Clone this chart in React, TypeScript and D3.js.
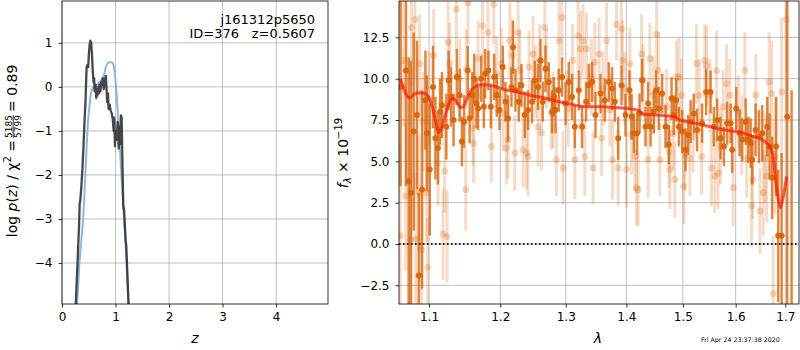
import React, { useEffect, useRef } from 'react';
import * as d3 from 'd3';

// ---- p(z) panel ----
const zGrid = [0.255, 0.29, 0.32, 0.33, 0.34, 0.36, 0.38, 0.40, 0.42, 0.44, 0.45, 0.46, 0.475, 0.49, 0.50, 0.515, 0.53, 0.545, 0.56, 0.575, 0.59, 0.60, 0.61, 0.625, 0.64, 0.65, 0.66, 0.68, 0.69, 0.70, 0.72, 0.73, 0.75, 0.76, 0.78, 0.80, 0.82, 0.83, 0.845, 0.86, 0.87, 0.89, 0.91, 0.93, 0.95, 0.965, 0.975, 0.99, 1.00, 1.02, 1.04, 1.06, 1.075, 1.09, 1.10, 1.115, 1.13, 1.145, 1.16, 1.19, 1.20, 1.22, 1.245];
const logPz = [-5.0, -4.0, -3.1, -2.65, -2.6, -2.3, -1.9, -1.4, -0.8, -0.3, 0.1, 0.45, 0.5, 0.45, 0.7, 0.95, 1.05, 1.0, 0.75, 0.35, 0.1, 0.2, -0.1, 0.05, -0.25, -0.05, -0.2, 0.0, -0.15, 0.05, -0.1, 0.1, 0.05, 0.2, -0.05, 0.15, 0.25, 0.0, -0.35, -0.15, -0.5, -0.4, -0.55, -0.6, -0.75, -1.0, -0.7, -1.35, -1.0, -1.2, -0.8, -1.4, -0.9, -1.3, -0.65, -0.7, -1.8, -2.7, -2.8, -3.5, -3.6, -4.2, -5.0];
const zPrior = [0.28, 0.32, 0.36, 0.40, 0.44, 0.48, 0.52, 0.56, 0.62, 0.68, 0.74, 0.78, 0.82, 0.86, 0.90, 0.94, 0.97, 1.00, 1.03, 1.06, 1.09, 1.12, 1.16, 1.20, 1.245];
const logPrior = [-5.0, -4.1, -3.5, -2.9, -1.9, -0.9, -0.35, -0.06, 0.02, 0.08, 0.16, 0.25, 0.45, 0.55, 0.56, 0.55, 0.45, 0.15, -0.35, -0.95, -1.55, -2.2, -3.0, -3.8, -5.0];
const zTicks = [0, 1, 2, 3, 4];
const pzTicks = [-4, -3, -2, -1, 0, 1];

// ---- spectrum panel ----
const waveDark = [1.0625, 1.0695, 1.0730, 1.0760, 1.0796, 1.0840, 1.0863, 1.0907, 1.0952, 1.0973, 1.1010, 1.1054, 1.1086, 1.1121, 1.1150, 1.1176, 1.1235, 1.1267, 1.1300, 1.1335, 1.1380, 1.1420, 1.1451, 1.1483, 1.1533, 1.1560, 1.1598, 1.1625, 1.1657, 1.1680, 1.1725, 1.1762, 1.1780, 1.1828, 1.1864, 1.1911, 1.1950, 1.1990, 1.2037, 1.2077, 1.2115, 1.2166, 1.2190, 1.2225, 1.2275, 1.2315, 1.2365, 1.2415, 1.2476, 1.2517, 1.2568, 1.2605, 1.2640, 1.2682, 1.2733, 1.2785, 1.2811, 1.2838, 1.2890, 1.2942, 1.2997, 1.3049, 1.3101, 1.3145, 1.3209, 1.3262, 1.3327, 1.3371, 1.3426, 1.3481, 1.3564, 1.3636, 1.3703, 1.3758, 1.3803, 1.3860, 1.3917, 1.3985, 1.4054, 1.4088, 1.4128, 1.4185, 1.4227, 1.4272, 1.4331, 1.4377, 1.4420, 1.4478, 1.4518, 1.4566, 1.4625, 1.4686, 1.4745, 1.4794, 1.4836, 1.4878, 1.4927, 1.4987, 1.5049, 1.5097, 1.5142, 1.5203, 1.5264, 1.5357, 1.5433, 1.5516, 1.5579, 1.5643, 1.5707, 1.5772, 1.5835, 1.5902, 1.5932, 1.6011, 1.6078, 1.6128, 1.6196, 1.6247, 1.6295, 1.6327, 1.6394, 1.6462, 1.6528, 1.6629, 1.6677, 1.6730, 1.6812, 1.6854, 1.6924, 1.7040, 1.7131];
const fluxDark = [9.5, 10.5, 3.8, 3.1, 6.8, 7.8, -1.9, 3.3, 8.7, 6.7, 4.5, 9.5, 6.4, 5.8, 8.0, 8.4, 7.1, 9.9, 8.9, 7.5, 10.1, 9.0, 6.2, 7.4, 10.5, 7.6, 9.0, 10.0, 8.5, 8.2, 10.0, 8.3, 10.3, 10.5, 8.3, 10.1, 9.0, 8.1, 10.7, 8.6, 7.6, 9.5, 11.9, 9.3, 8.6, 9.6, 7.8, 8.1, 8.6, 9.9, 9.5, 11.1, 8.6, 10.6, 9.8, 8.0, 8.9, 8.1, 9.3, 10.1, 8.5, 9.8, 8.9, 7.1, 9.3, 7.1, 8.6, 9.6, 9.8, 7.8, 9.1, 8.7, 9.8, 9.4, 8.6, 6.4, 9.6, 7.8, 9.3, 7.7, 6.7, 6.7, 7.9, 9.9, 7.1, 8.5, 7.1, 8.0, 9.3, 8.2, 9.1, 7.1, 6.0, 8.8, 7.8, 8.7, 7.1, 6.8, 5.7, 6.6, 7.4, 7.9, 6.9, 7.3, 9.2, 9.2, 7.1, 7.5, 6.4, 5.9, 7.3, 7.3, 5.7, 8.2, 6.7, 6.3, 7.4, 6.3, 6.1, 5.1, 6.9, 6.5, 6.7, 7.1, 5.9, 4.0, 5.9, 0.5, 0.5, 7.7, -4.5];
const errDark = [6.0, 7.0, 7.5, 8.0, 6.0, 4.5, 5.0, 6.0, 3.0, 3.5, 4.0, 2.5, 2.5, 2.2, 2.0, 2.0, 2.0, 1.8, 1.8, 1.6, 1.7, 1.6, 1.5, 1.6, 1.5, 1.5, 1.4, 1.5, 1.5, 1.3, 1.4, 1.3, 1.5, 1.2, 1.3, 1.4, 1.3, 1.2, 1.3, 1.2, 1.4, 1.2, 1.6, 1.3, 1.2, 1.3, 1.4, 1.2, 1.3, 1.2, 1.4, 1.3, 1.2, 1.4, 1.2, 1.3, 1.2, 1.4, 1.3, 1.2, 1.3, 1.2, 1.4, 1.3, 1.2, 1.3, 1.2, 1.3, 1.2, 1.4, 1.2, 1.3, 1.2, 1.3, 1.2, 1.3, 1.2, 1.3, 1.2, 1.4, 1.2, 1.3, 1.2, 1.3, 1.2, 1.3, 1.2, 1.3, 1.2, 1.3, 1.2, 1.3, 1.2, 1.3, 1.2, 1.3, 1.2, 1.3, 1.3, 1.2, 1.3, 1.2, 1.3, 1.2, 1.4, 1.3, 1.2, 1.3, 1.3, 1.2, 1.3, 1.2, 1.4, 1.3, 1.4, 1.3, 1.4, 1.4, 1.5, 1.5, 1.6, 1.6, 1.7, 1.8, 2.0, 2.5, 3.0, 4.0, 5.0, 12.0, 13.8];

const waveLight = [1.0620, 1.0664, 1.0691, 1.0757, 1.0766, 1.0813, 1.0822, 1.0866, 1.0875, 1.0899, 1.0920, 1.0965, 1.0983, 1.1000, 1.1063, 1.1122, 1.1190, 1.1213, 1.1245, 1.1260, 1.1282, 1.1375, 1.1421, 1.1505, 1.1514, 1.1537, 1.1608, 1.1617, 1.1679, 1.1742, 1.1822, 1.1872, 1.1905, 1.1945, 1.2018, 1.2042, 1.2091, 1.2115, 1.2141, 1.2181, 1.2215, 1.2265, 1.2290, 1.2340, 1.2392, 1.2415, 1.2430, 1.2491, 1.2532, 1.2568, 1.2594, 1.2620, 1.2671, 1.2697, 1.2775, 1.2801, 1.2853, 1.2895, 1.2942, 1.2958, 1.3037, 1.3108, 1.3145, 1.3198, 1.3237, 1.3279, 1.3306, 1.3334, 1.3415, 1.3442, 1.3470, 1.3541, 1.3582, 1.3608, 1.3665, 1.3720, 1.3765, 1.3833, 1.3860, 1.3917, 1.3934, 1.3973, 1.4002, 1.4060, 1.4088, 1.4146, 1.4175, 1.4203, 1.4262, 1.4290, 1.4377, 1.4407, 1.4465, 1.4526, 1.4555, 1.4584, 1.4704, 1.4751, 1.4764, 1.4823, 1.4854, 1.4884, 1.4931, 1.4976, 1.5018, 1.5036, 1.5128, 1.5189, 1.5253, 1.5302, 1.5347, 1.5408, 1.5440, 1.5503, 1.5534, 1.5598, 1.5629, 1.5660, 1.5706, 1.5757, 1.5823, 1.5887, 1.5951, 1.6050, 1.6117, 1.6181, 1.6215, 1.6315, 1.6334, 1.6401, 1.6482, 1.6548, 1.6583, 1.6617, 1.6669, 1.6719, 1.6751, 1.6787, 1.6924, 1.7027];
const fluxLight = [0.5, 11.1, 2.9, 0.25, 13.1, 13.6, 0.3, 3.1, 10.9, -0.35, 7.4, 3.1, -1.4, 8.8, 11.4, 4.9, 0.6, 4.4, 0.45, 12.2, 10.9, 14.2, 10.0, 3.3, 10.6, 14.6, 7.05, 6.1, 11.2, 13.2, 12.8, 5.9, 14.5, 10.3, 10.9, 7.9, 5.8, 6.3, 12.3, 11.4, 5.5, 12.8, 10.5, 5.7, 5.5, 5.3, 10.7, 11.5, 9.8, 7.1, 11.1, 6.75, 13.1, 10.6, 7.9, 8.1, 5.1, 12.3, 13.7, 4.6, 8.2, 11.1, 5.1, 12.6, 11.8, 12.3, 5.3, 11.8, 10.1, 4.6, 11.0, 11.5, 6.4, 9.4, 12.3, 8.1, 5.1, 13.3, 4.6, 13.0, 11.1, 9.4, 4.5, 10.9, 6.6, 5.3, 3.4, 3.3, 11.5, 9.9, 5.1, 11.2, 9.0, 12.7, 10.5, 5.1, 8.3, 5.6, 4.5, 6.7, 3.9, 10.1, 10.1, 9.0, 3.5, 5.4, 5.2, 6.5, 10.9, 9.0, 5.3, 11.1, 10.8, 9.0, 4.6, 4.1, 10.5, 4.3, 5.9, 8.3, 9.7, 9.0, 3.4, 8.0, 6.6, 10.5, 5.2, 2.3, 3.9, 9.0, 2.0, 3.1, 5.2, 4.1, 9.8, 9.1, -3.0, 5.3, 9.2, 13.6];
const errLight = [5.5, 4.0, 4.5, 4.0, 3.5, 3.5, 4.0, 3.5, 3.0, 3.5, 3.0, 3.0, 3.0, 2.8, 2.8, 2.6, 2.8, 2.5, 2.8, 2.6, 2.5, 2.6, 2.4, 2.5, 2.4, 2.5, 2.3, 2.4, 2.3, 2.4, 2.3, 2.2, 2.4, 2.3, 2.2, 2.3, 2.2, 2.4, 2.3, 2.2, 2.3, 2.2, 2.4, 2.3, 2.2, 2.4, 2.2, 2.3, 2.2, 2.4, 2.2, 2.3, 2.2, 2.4, 2.2, 2.3, 2.2, 2.4, 2.3, 2.2, 2.3, 2.2, 2.4, 2.2, 2.3, 2.2, 2.4, 2.2, 2.3, 2.2, 2.4, 2.2, 2.3, 2.2, 2.3, 2.2, 2.4, 2.2, 2.3, 2.2, 2.4, 2.2, 2.3, 2.2, 2.4, 2.2, 2.3, 2.2, 2.4, 2.2, 2.3, 2.2, 2.4, 2.2, 2.3, 2.2, 2.3, 2.2, 2.4, 2.2, 2.3, 2.2, 2.4, 2.2, 2.3, 2.2, 2.3, 2.2, 2.4, 2.2, 2.3, 2.2, 2.4, 2.2, 2.3, 2.2, 2.4, 2.2, 2.3, 2.2, 2.4, 2.2, 2.3, 2.2, 2.4, 2.3, 2.4, 2.5, 2.4, 2.5, 2.6, 2.6, 2.7, 2.8, 3.0, 3.2, 3.5, 3.5, 4.5, 6.0];

const waveModel = [1.062, 1.066, 1.070, 1.075, 1.080, 1.088, 1.095, 1.100, 1.105, 1.110, 1.113, 1.117, 1.122, 1.128, 1.133, 1.138, 1.143, 1.147, 1.152, 1.158, 1.165, 1.175, 1.185, 1.195, 1.205, 1.22, 1.235, 1.25, 1.27, 1.29, 1.31, 1.33, 1.36, 1.38, 1.40, 1.42, 1.43, 1.45, 1.47, 1.485, 1.495, 1.51, 1.53, 1.55, 1.57, 1.59, 1.61, 1.63, 1.65, 1.662, 1.668, 1.675, 1.679, 1.685, 1.690, 1.696, 1.703];
const fluxModel = [10.0, 9.5, 9.0, 8.85, 9.05, 9.15, 9.1, 8.85, 8.2, 7.2, 6.75, 7.0, 7.8, 8.6, 8.8, 8.6, 8.25, 8.3, 8.8, 9.3, 9.55, 9.65, 9.6, 9.5, 9.35, 9.25, 9.1, 8.95, 8.8, 8.6, 8.45, 8.3, 8.3, 8.25, 8.2, 8.1, 7.85, 7.8, 7.75, 7.7, 7.5, 7.4, 7.25, 7.1, 6.95, 6.85, 6.75, 6.55, 6.35, 6.1, 5.9, 5.3, 4.2, 2.8, 2.2, 2.9, 4.1];
const waveTicks = [1.1, 1.2, 1.3, 1.4, 1.5, 1.6, 1.7];
const fluxTicks = [-2.5, 0, 2.5, 5, 7.5, 10, 12.5];

const FONT = 'DejaVu Sans';
const ORANGE = '#d9650b';

const App = () => {
  const svgRef = useRef(null);

  useEffect(() => {
    if (!svgRef.current) return;
    const svg = d3.select(svgRef.current);
    svg.selectAll('*').remove();

    const drawFrame = (x, y, xTicks, yTicks, xFmt, yFmt, clipId) => {
      const [x0, x1] = x.range();
      const [y1, y0] = y.range();
      svg.append('clipPath').attr('id', clipId)
        .append('rect').attr('x', x0).attr('y', y0).attr('width', x1 - x0).attr('height', y1 - y0);

      // grid
      const grid = svg.append('g').attr('stroke', '#b0b0b0').attr('stroke-width', 0.8);
      xTicks.forEach(t => grid.append('line').attr('x1', x(t)).attr('x2', x(t)).attr('y1', y0).attr('y2', y1));
      yTicks.forEach(t => grid.append('line').attr('x1', x0).attr('x2', x1).attr('y1', y(t)).attr('y2', y(t)));

      const gx = svg.append('g')
        .attr('transform', `translate(0,${y1})`)
        .call(d3.axisBottom(x).tickValues(xTicks).tickSize(3.5).tickPadding(5).tickFormat(xFmt));
      const gy = svg.append('g')
        .attr('transform', `translate(${x0},0)`)
        .call(d3.axisLeft(y).tickValues(yTicks).tickSize(3.5).tickPadding(6).tickFormat(yFmt));
      [gx, gy].forEach(g => {
        g.select('.domain').remove();
        g.attr('font-size', 12).attr('font-family', FONT);
        g.selectAll('line').attr('stroke', '#000').attr('stroke-width', 0.8);
        g.selectAll('text').attr('fill', '#000');
      });
      return () => svg.append('rect')
        .attr('x', x0).attr('y', y0).attr('width', x1 - x0).attr('height', y1 - y0)
        .attr('fill', 'none').attr('stroke', '#000').attr('stroke-width', 0.8);
    };

    // ---------- left: p(z) ----------
    const lx = d3.scaleLinear().domain([0, 4.97]).range([62, 328]);
    const ly = d3.scaleLinear().domain([-4.93, 1.95]).range([304, 1]);
    const leftBorder = drawFrame(lx, ly, zTicks, pzTicks, d3.format('d'), d3.format('d'), 'clipL');

    const lineL = d3.line().x(d => lx(d[0])).y(d => ly(d[1]));
    const lp = svg.append('g').attr('clip-path', 'url(#clipL)');
    lp.append('path')
      .attr('d', lineL.curve(d3.curveMonotoneX)(zPrior.map((z, i) => [z, logPrior[i]])))
      .attr('fill', 'none').attr('stroke', '#7eb0da').attr('stroke-width', 2).attr('opacity', 0.9);
    lp.append('path')
      .attr('d', lineL.curve(d3.curveLinear)(zGrid.map((z, i) => [z, logPz[i]])))
      .attr('fill', 'none').attr('stroke', '#333').attr('stroke-width', 2.3)
      .attr('stroke-linejoin', 'round').attr('opacity', 0.9);
    leftBorder();

    svg.append('text').attr('x', 315).attr('y', 24).attr('text-anchor', 'end')
      .attr('font-family', FONT).attr('font-size', 13).text('j161312p5650');
    svg.append('text').attr('x', 239).attr('y', 38).attr('text-anchor', 'end')
      .attr('font-family', FONT).attr('font-size', 13).text('ID=376');
    svg.append('text').attr('x', 315).attr('y', 38).attr('text-anchor', 'end')
      .attr('font-family', FONT).attr('font-size', 13).text('z=0.5607');

    // y label with fraction
    const yl = svg.append('g').attr('transform', 'translate(17,152) rotate(-90)')
      .attr('font-family', FONT).attr('fill', '#000');
    const t1 = yl.append('text').attr('x', 12).attr('y', 0).attr('text-anchor', 'end').attr('font-size', 14);
    t1.append('tspan').text('log ');
    t1.append('tspan').attr('font-style', 'italic').text('p');
    t1.append('tspan').text('(');
    t1.append('tspan').attr('font-style', 'italic').text('z');
    t1.append('tspan').text(') / χ');
    t1.append('tspan').attr('font-size', 10).attr('dy', -6).text('2');
    t1.append('tspan').attr('dy', 6).text(' =');
    yl.append('text').attr('x', 25.5).attr('y', -5).attr('text-anchor', 'middle').attr('font-size', 9).text('5185');
    yl.append('line').attr('x1', 14).attr('x2', 37).attr('y1', -3.8).attr('y2', -3.8).attr('stroke', '#000').attr('stroke-width', 0.8);
    yl.append('text').attr('x', 25.5).attr('y', 3.6).attr('text-anchor', 'middle').attr('font-size', 9).text('5799');
    yl.append('text').attr('x', 40).attr('y', 0).attr('text-anchor', 'start').attr('font-size', 14).text('= 0.89');

    svg.append('text').attr('x', 195).attr('y', 343).attr('text-anchor', 'middle')
      .attr('font-family', FONT).attr('font-size', 14).attr('font-style', 'italic').text('z');

    // ---------- right: spectrum ----------
    const rx = d3.scaleLog().domain([1.0604, 1.7287]).range([399, 799]);
    const ry = d3.scaleLinear().domain([-3.63, 14.7]).range([304, 1]);
    const rightBorder = drawFrame(rx, ry, waveTicks, fluxTicks, d3.format('.1f'), d3.format('.1f'), 'clipR');

    const rp = svg.append('g').attr('clip-path', 'url(#clipR)');
    const light = waveLight.map((w, i) => ({ w, f: fluxLight[i], e: errLight[i] }));
    const dark = waveDark.map((w, i) => ({ w, f: fluxDark[i], e: errDark[i] }));

    rp.append('g').selectAll('line').data(light).join('line')
      .attr('x1', d => rx(d.w)).attr('x2', d => rx(d.w))
      .attr('y1', d => ry(d.f - d.e)).attr('y2', d => ry(d.f + d.e))
      .attr('stroke', ORANGE).attr('stroke-width', 3).attr('opacity', 0.22);
    rp.append('g').selectAll('circle').data(light).join('circle')
      .attr('cx', d => rx(d.w)).attr('cy', d => ry(d.f)).attr('r', 3.5)
      .attr('fill', ORANGE).attr('opacity', 0.26);

    rp.append('g').selectAll('line').data(dark).join('line')
      .attr('x1', d => rx(d.w)).attr('x2', d => rx(d.w))
      .attr('y1', d => ry(d.f - d.e)).attr('y2', d => ry(d.f + d.e))
      .attr('stroke', ORANGE).attr('stroke-width', 2.5).attr('opacity', 0.78);
    rp.append('g').selectAll('circle').data(dark).join('circle')
      .attr('cx', d => rx(d.w)).attr('cy', d => ry(d.f)).attr('r', 3)
      .attr('fill', ORANGE).attr('opacity', 0.95);

    rp.append('line').attr('x1', 399).attr('x2', 799).attr('y1', ry(0)).attr('y2', ry(0))
      .attr('stroke', '#000').attr('stroke-width', 1.8).attr('stroke-dasharray', '1.6,2.4').attr('opacity', 0.85);

    const lineR = d3.line().x(d => rx(d[0])).y(d => ry(d[1])).curve(d3.curveMonotoneX);
    rp.append('path')
      .attr('d', lineR(waveModel.map((w, i) => [w, fluxModel[i]])))
      .attr('fill', 'none').attr('stroke', '#ff1a00').attr('stroke-width', 3)
      .attr('stroke-linejoin', 'round').attr('opacity', 0.72);
    rightBorder();

    const fl = svg.append('g').attr('transform', 'translate(348,153) rotate(-90)').attr('font-family', FONT);
    const ft = fl.append('text').attr('text-anchor', 'middle').attr('font-size', 14);
    ft.append('tspan').attr('font-style', 'italic').text('f');
    ft.append('tspan').attr('font-size', 10).attr('dy', 3).attr('font-style', 'italic').text('λ');
    ft.append('tspan').attr('dy', -3).text(' × 10');
    ft.append('tspan').attr('font-size', 10).attr('dy', -6).text('−19');

    svg.append('text').attr('x', 598).attr('y', 343).attr('text-anchor', 'middle')
      .attr('font-family', FONT).attr('font-size', 14).attr('font-style', 'italic').text('λ');

    svg.append('text').attr('x', 701).attr('y', 342)
      .attr('font-family', FONT).attr('font-size', 6.3).text('Fri Apr 24 23:37:38 2020');
  }, []);

  return (
    <svg ref={svgRef} width={800} height={350}
      style={{ position: 'absolute', left: 0, top: 0, background: '#fff' }} />
  );
};

export default App;
